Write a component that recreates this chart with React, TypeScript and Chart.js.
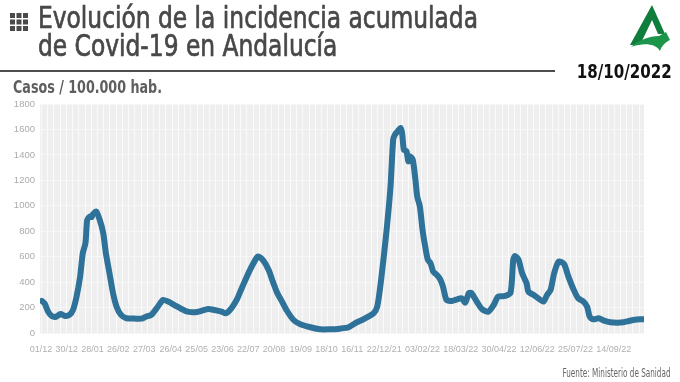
import React, { useEffect, useLayoutEffect, useRef } from "react";
import { Chart, registerables } from "chart.js";

Chart.register(...registerables);

// Days since 01/12/2020
const days = [
  1, 4, 8, 12, 17, 22, 27, 32, 36, 40, 44, 47, 50, 52, 55, 57, 58, 62, 66, 70,
  73, 77, 81, 85, 90, 96, 105, 113, 118, 124, 130, 134, 137, 143, 150, 158, 165, 173, 180, 188,
  195, 203, 208, 214, 220, 225, 229, 235, 241, 244, 250, 256, 260, 265, 271, 276, 284, 291, 303, 314,
  325, 336, 346, 353, 361, 368, 374, 378, 381, 385, 389, 393, 396, 398, 401, 404, 406, 408, 411, 413,
  415, 418, 421, 423, 426, 429, 432, 435, 438, 441, 445, 449, 452, 456, 462, 468, 473, 477, 481, 484,
  490, 496, 503, 509, 514, 522, 528, 531, 533, 537, 541, 546, 548, 554, 559, 565, 569, 573, 577, 582,
  588, 593, 599, 604, 610, 614, 617, 621, 627, 633, 640, 648, 655, 661, 666, 674, 678,
];

// Incidencia acumulada (casos / 100.000 hab.)
const values = [
  252, 234, 168, 134, 128, 150, 134, 142, 181, 286, 443, 627, 706, 890, 916, 911, 929, 955, 890, 785,
  627, 470, 313, 207, 142, 116, 113, 113, 128, 142, 194, 234, 260, 247, 220, 189, 168, 163, 173, 189,
  181, 168, 155, 194, 260, 340, 404, 496, 575, 601, 569, 496, 417, 325, 247, 181, 102, 71, 45, 29,
  29, 34, 45, 76, 102, 128, 155, 207, 339, 575, 837, 1152, 1520, 1559, 1585, 1612, 1572, 1441, 1428, 1349,
  1388, 1362, 1205, 1073, 994, 811, 680, 575, 549, 483, 457, 420, 365, 260, 252, 265, 273, 239, 313, 313,
  247, 186, 168, 220, 286, 291, 317, 575, 606, 575, 470, 391, 325, 299, 273, 247, 299, 339, 470, 561,
  543, 443, 339, 273, 247, 207, 128, 108, 116, 97, 84, 81, 84, 94, 102, 108, 108,
];

const tickDays = [0, 29, 58, 87, 116, 146, 175, 204, 233, 262, 292, 321, 350, 386, 429, 472, 515, 558, 601, 644];
const tickLabels = [
  "01/12", "30/12", "28/01", "26/02", "27/03", "26/04", "25/05", "23/06", "22/07", "20/08",
  "19/09", "18/10", "16/11", "22/12/21", "03/02/22", "18/03/22", "30/04/22", "12/06/22", "25/07/22", "14/09/22",
];

const yTicks = [0, 200, 400, 600, 800, 1000, 1200, 1400, 1600, 1800];

const COND = '"DejaVu Sans Condensed", "DejaVu Sans", sans-serif';
const TICKF = '"Liberation Sans", Arial, sans-serif';

const bgPlugin = {
  id: "plotBg",
  beforeDraw(chart: any) {
    const { ctx, chartArea, scales } = chart;
    if (!chartArea) return;
    ctx.save();
    ctx.fillStyle = "#eeeeee";
    ctx.fillRect(chartArea.left, chartArea.top, chartArea.right - chartArea.left, chartArea.bottom - chartArea.top);
    ctx.strokeStyle = "#fbfbfb";
    ctx.lineWidth = 1;
    const xs = scales.x;
    for (let d = 0; d <= xs.max; d += 7) {
      const px = Math.round(xs.getPixelForValue(d)) + 0.5;
      ctx.beginPath();
      ctx.moveTo(px, chartArea.top);
      ctx.lineTo(px, chartArea.bottom);
      ctx.stroke();
    }
    ctx.restore();
  },
};

function Fit(props: { target: number; align?: "left" | "right"; style: any; children: any }) {
  const ref = useRef<HTMLSpanElement | null>(null);
  useLayoutEffect(() => {
    const el = ref.current;
    if (!el) return;
    el.style.transform = "none";
    const w = el.getBoundingClientRect().width;
    if (w > 0) el.style.transform = `scaleX(${props.target / w})`;
  });
  return (
    <span
      ref={ref}
      style={{
        position: "absolute",
        display: "inline-block",
        whiteSpace: "nowrap",
        transformOrigin: props.align === "right" ? "right top" : "left top",
        ...props.style,
      }}
    >
      {props.children}
    </span>
  );
}

function Title() {
  const l1 = useRef<HTMLSpanElement | null>(null);
  const l2 = useRef<HTMLSpanElement | null>(null);
  useLayoutEffect(() => {
    if (!l1.current || !l2.current) return;
    l1.current.style.transform = "none";
    const w = l1.current.getBoundingClientRect().width;
    const s = w > 0 ? 440 / w : 1;
    l1.current.style.transform = `scaleX(${s})`;
    l2.current.style.transform = `scaleX(${s})`;
  });
  const base: any = {
    position: "absolute",
    left: 38,
    display: "inline-block",
    whiteSpace: "nowrap",
    transformOrigin: "left top",
    fontFamily: COND,
    fontSize: 31,
    lineHeight: "32px",
    color: "#484848",
    WebkitTextStroke: "0.7px #484848",
  };
  return (
    <>
      <span ref={l1} style={{ ...base, top: 1 }}>Evolución de la incidencia acumulada</span>
      <span ref={l2} style={{ ...base, top: 29 }}>de Covid-19 en Andalucía</span>
    </>
  );
}

export default function App() {
  const ref = useRef<HTMLCanvasElement | null>(null);

  useEffect(() => {
    if (!ref.current) return;
    const chart = new Chart(ref.current, {
      type: "line",
      data: {
        datasets: [
          {
            data: days.map((d, i) => ({ x: d, y: values[i] })),
            borderColor: "#2e7199",
            borderWidth: 6,
            pointRadius: 0,
            tension: 0.25,
            borderJoinStyle: "round",
            borderCapStyle: "round",
            fill: false,
          },
        ],
      },
      options: {
        responsive: false,
        animation: false,
        layout: { padding: { top: 104, right: 36, left: 0, bottom: 0 } },
        plugins: { legend: { display: false }, tooltip: { enabled: false } },
        scales: {
          x: {
            type: "linear",
            min: -1.1,
            max: 678,
            grid: { display: false },
            border: { display: false },
            afterBuildTicks: (scale: any) => {
              scale.ticks = tickDays.map((v) => ({ value: v }));
            },
            afterFit: (scale: any) => {
              scale.height = 49;
            },
            ticks: {
              autoSkip: false,
              maxRotation: 0,
              padding: 3,
              color: "#b0b0b0",
              font: { family: TICKF, size: 9 },
              callback: (v: any) => {
                const i = tickDays.indexOf(Number(v));
                return i >= 0 ? tickLabels[i] : "";
              },
            },
          },
          y: {
            min: 0,
            max: 1800,
            afterBuildTicks: (scale: any) => {
              scale.ticks = yTicks.map((v) => ({ value: v }));
            },
            afterFit: (scale: any) => {
              scale.width = 40;
            },
            grid: { color: "#f7f7f7", drawTicks: false, lineWidth: 1 },
            border: { display: false },
            ticks: {
              padding: 5,
              color: "#ababab",
              font: { family: TICKF, size: 9.5 },
              callback: (v: any) => String(v),
            },
          },
        },
      },
      plugins: [bgPlugin],
    } as any);
    return () => chart.destroy();
  }, []);

  const sq = [];
  for (let r = 0; r < 3; r++)
    for (let c = 0; c < 3; c++)
      sq.push(<rect key={r * 3 + c} x={c * 6.5} y={r * 6.5} width={5} height={5} fill="#4a4a4a" />);

  return (
    <div style={{ position: "absolute", left: 0, top: 0, width: 680, height: 382, background: "#fff", overflow: "hidden" }}>
      <canvas ref={ref} width={680} height={382} style={{ position: "absolute", left: 0, top: 0, width: 680, height: 382 }} />
      <svg width={19} height={19} style={{ position: "absolute", left: 10, top: 13 }}>{sq}</svg>
      <Title />
      <svg width={46} height={46} viewBox="0 0 44 46" style={{ position: "absolute", left: 626, top: 5 }}>
        <path d="M25 0 L3 40 L13 40 L25 15 L31 29 L38 29 Z" fill="#0f7d3c" />
        <path d="M4 42 C16 38 28 38 33 46 C35 40 39 37 43 35 L39 27 L32 31 C22 31 12 35 4 42 Z" fill="#1c964a" />
      </svg>
      <div style={{ position: "absolute", left: 0, top: 70, width: 555, height: 2, background: "#4d4d4d" }} />
      <Fit target={95} align="right" style={{ right: 8, top: 60, fontFamily: COND, fontSize: 19, fontWeight: 700, color: "#111" }}>
        18/10/2022
      </Fit>
      <Fit target={149} style={{ left: 13, top: 77, fontFamily: COND, fontSize: 17, fontWeight: 700, color: "#5e5e5e" }}>
        Casos / 100.000 hab.
      </Fit>
      <Fit target={108} align="right" style={{ right: 9, top: 366, fontFamily: COND, fontSize: 12, color: "#666" }}>
        Fuente: Ministerio de Sanidad
      </Fit>
    </div>
  );
}
